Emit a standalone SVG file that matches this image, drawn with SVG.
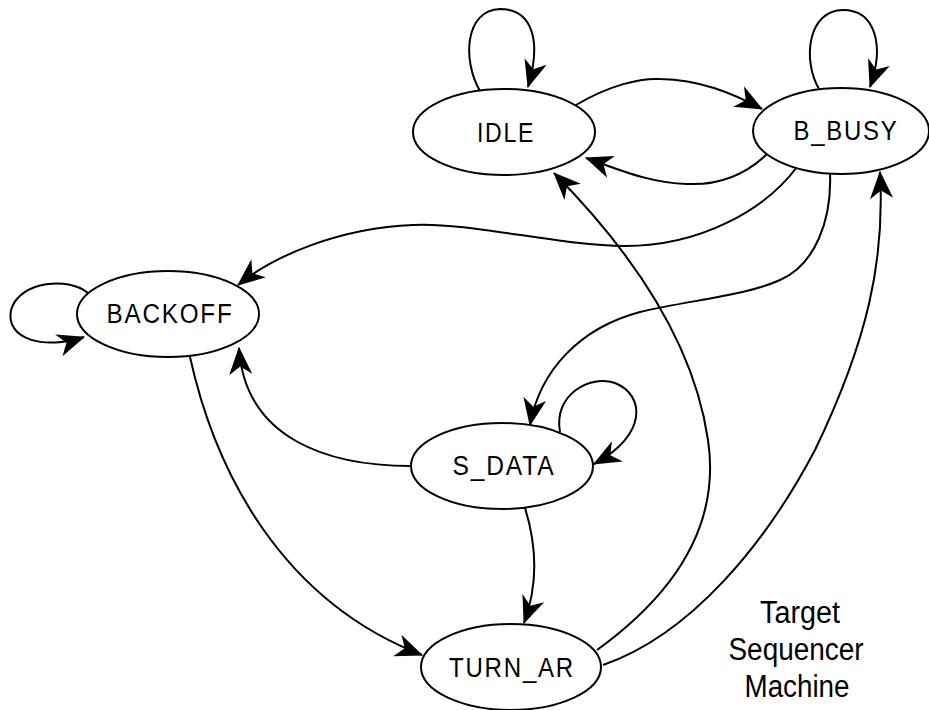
<svg xmlns="http://www.w3.org/2000/svg" width="929" height="710" viewBox="0 0 929 710">
<style>
.n ellipse{fill:#fff;stroke:#000;stroke-width:2}
.n text{font-family:"Liberation Sans",Arial,sans-serif;font-size:27px;letter-spacing:2px;text-anchor:middle;fill:#000}
#edges path{fill:none;stroke:#000;stroke-width:2;marker-end:url(#ah)}
.cap{font-family:"Liberation Sans",Arial,sans-serif;font-size:31px;text-anchor:middle;fill:#000}
</style>
<defs>
<marker id="ah" markerUnits="userSpaceOnUse" markerWidth="30" markerHeight="30" viewBox="-24 -12 26 24" refX="0" refY="0" orient="auto" overflow="visible">
<path d="M1,0 L-23,-10 L-16,0 L-23,10 Z" fill="#000"/>
</marker>
</defs>
<rect width="929" height="710" fill="#fff"/>
<g id="edges">
<path d="M480,91 C462,60 465,10 500,9 C532,9 542,40 528,87"/>
<path d="M819,89 C802,60 808,10 843,10 C875,10 885,45 870,87"/>
<path d="M576,105 C610,85 640,78 660,79 C700,80 730,92 762,109"/>
<path d="M767,154 C740,180 710,185 687,184 C650,183 620,170 586,158"/>
<path d="M797,167 C765,210 700,246 625,246 C560,246 470,222 413,225 C340,228 275,255 238,285"/>
<path d="M830,173 C832,220 815,265 780,280 C745,296 690,300 640,312 C580,328 540,370 530,425"/>
<path d="M560,432 C553,395 590,374 615,383 C645,395 648,435 594,464"/>
<path d="M411,466 C330,466 245,440 239,348"/>
<path d="M190,357 C215,470 280,600 422,655"/>
<path d="M525,508 C535,540 540,580 524,623"/>
<path d="M597,650 C680,590 720,520 708,440 C695,350 640,260 554,173"/>
<path d="M603,665 C690,635 765,545 815,450 C868,340 885,260 880,172"/>
<path d="M88,293 C70,277 20,280 11,310 C5,340 45,350 84,337"/>
</g>
<g id="IDLE" class="n"><ellipse cx="504" cy="132" rx="91" ry="43"/><text x="506" y="142" textLength="58" lengthAdjust="spacingAndGlyphs">IDLE</text></g>
<g id="B_BUSY" class="n"><ellipse cx="841" cy="131" rx="88" ry="43"/><text x="846" y="140" textLength="105" lengthAdjust="spacingAndGlyphs">B_BUSY</text></g>
<g id="BACKOFF" class="n"><ellipse cx="168" cy="314" rx="91" ry="43"/><text x="170" y="323" textLength="127" lengthAdjust="spacingAndGlyphs">BACKOFF</text></g>
<g id="S_DATA" class="n"><ellipse cx="502" cy="466" rx="91" ry="43"/><text x="504" y="475" textLength="103" lengthAdjust="spacingAndGlyphs">S_DATA</text></g>
<g id="TURN_AR" class="n"><ellipse cx="511" cy="667" rx="90" ry="43"/><text x="512" y="677" textLength="126" lengthAdjust="spacingAndGlyphs">TURN_AR</text></g>
<g id="caption">
<text class="cap" x="800" y="623" textLength="80" lengthAdjust="spacingAndGlyphs">Target</text>
<text class="cap" x="796" y="660" textLength="135" lengthAdjust="spacingAndGlyphs">Sequencer</text>
<text class="cap" x="797" y="697" textLength="105" lengthAdjust="spacingAndGlyphs">Machine</text>
</g>
</svg>
